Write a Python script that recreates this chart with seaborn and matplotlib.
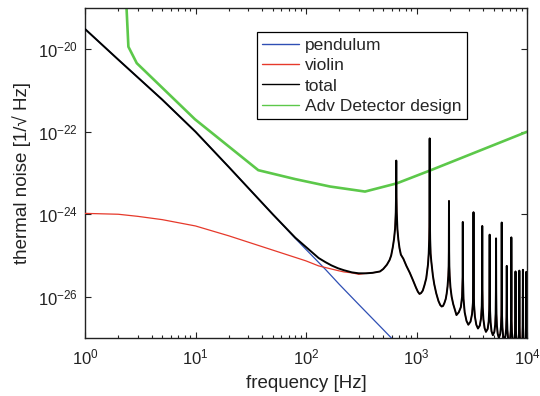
import numpy as np
import matplotlib
matplotlib.use("Agg")
import matplotlib.pyplot as plt
from matplotlib.ticker import LogLocator, NullLocator, NullFormatter
import seaborn as sns

# --- values (Hz, 1/sqrt(Hz)) ---
pend_f = [1, 2, 5, 10, 20, 50, 80, 100, 150, 200, 300, 500, 700]
pend_v = [3.1e-20, 5.6e-21, 6.0e-22, 1.0e-22, 1.4e-23, 1.0e-24, 2.6e-25, 1.4e-25, 4.6e-26,
          2.0e-26, 6.5e-27, 1.6e-27, 6.3e-28]

violin_low_f = [1, 2, 3, 5, 10, 20, 50, 100, 130, 150, 170, 195, 220, 260, 300]
violin_low_v = [1.05e-24, 1.0e-24, 8.9e-25, 7.4e-25, 5.2e-25, 3.0e-25, 1.35e-25, 7.4e-26,
                5.6e-26, 5.1e-26, 4.7e-26, 4.3e-26, 4.0e-26, 3.8e-26, 3.5e-26]

# total: pendulum-dominated part, then the violin-mode resonances
total_f = [1, 2, 5, 10, 20, 50, 80, 100, 115, 130, 150, 170, 195, 220, 260, 300, 350, 400, 467,
           500, 540, 571, 590, 610, 626, 640, 649.4, 654, 656, 658, 662.6, 672, 685.5, 702, 722,
           761, 810, 870, 930, 990, 1030, 1065, 1100, 1140,
           1180, 1225, 1270, 1290, 1303, 1312, 1316, 1320, 1329, 1342, 1362, 1408, 1448, 1510,
           1580, 1640, 1690, 1740,
           1790, 1840, 1876, 1910, 1940, 1955, 1962, 1968, 1974, 1982, 1997, 2030, 2080, 2150,
           2235, 2300,
           2414, 2519, 2585, 2616, 2624, 2632, 2663, 2729, 2834, 2944,
           3083, 3182, 3241, 3270, 3280, 3290, 3319, 3378, 3477, 3600,
           3739, 3838, 3897, 3924, 3936, 3948, 3975, 4034, 4133, 4251,
           4408, 4500, 4551, 4578, 4592, 4606, 4633, 4684, 4776, 4909,
           5064, 5154, 5206, 5232, 5248, 5264, 5290, 5342, 5432, 5566,
           5727, 5815, 5863, 5886, 5904, 5922, 5945, 5993, 6081, 6223,
           6383, 6475, 6521, 6540, 6560, 6580, 6599, 6645, 6737, 6880,
           7043, 7129, 7173, 7194, 7216, 7238, 7259, 7303, 7389, 7537,
           7699, 7785, 7829, 7848, 7872, 7896, 7915, 7959, 8045, 8193,
           8357, 8443, 8485, 8502, 8528, 8554, 8571, 8613, 8699, 8850,
           9000, 9092, 9138, 9156, 9184, 9212, 9230, 9276, 9368, 9506,
           9643, 9742, 9791, 9810, 9840, 9870, 9889, 9940, 10000]
total_v = [3.1e-20, 5.6e-21, 6.0e-22, 1.0e-22, 1.4e-23, 1.0e-24, 2.7e-25, 1.6e-25, 1.15e-25, 8.7e-26,
           6.9e-26, 5.75e-26, 4.9e-26, 4.4e-26, 3.9e-26, 3.7e-26, 3.7e-26, 3.8e-26, 4.1e-26,
           4.7e-26, 6.0e-26, 7.8e-26, 1.0e-25, 1.58e-25, 2.5e-25, 4.5e-25, 1.12e-24, 3.5e-24, 2.0e-23,
           3.5e-24, 1.12e-24, 4.3e-25, 2.4e-25, 1.5e-25, 1.05e-25,
           8.3e-26, 5.6e-26, 3.8e-26, 2.5e-26, 1.66e-26, 1.32e-26, 1.17e-26, 1.23e-26, 1.41e-26,
           1.9e-26, 2.8e-26, 6.0e-26, 1.12e-25, 2.5e-25, 8.9e-25, 6.9e-23, 8.9e-25, 2.5e-25, 1.12e-25,
           7.1e-26, 3.2e-26, 2.0e-26, 1.2e-26,
           7.9e-27, 6.3e-27, 5.8e-27, 6.0e-27,
           7.1e-27, 8.9e-27, 1.2e-26, 1.78e-26, 3.2e-26, 5.6e-26, 1.26e-25, 2.1e-24, 1.26e-25, 5.6e-26,
           3.2e-26, 1.66e-26, 1.0e-26, 6.6e-27, 4.7e-27, 3.6e-27,
           4.2e-27, 5.6e-27, 1.0e-26, 3.2e-26, 6.5e-25, 3.2e-26, 8.9e-27, 4.2e-27, 2.6e-27, 2.1e-27,
           2.5e-27, 3.8e-27, 7.1e-27, 2.4e-26, 1.12e-24, 2.4e-26, 6.3e-27, 3.3e-27, 2.1e-27, 1.7e-27,
           2.0e-27, 3.0e-27, 6.0e-27, 1.95e-26, 5.2e-25, 1.95e-26, 5.6e-27, 2.8e-27, 1.74e-27, 1.41e-27,
           1.66e-27, 2.5e-27, 4.8e-27, 1.62e-26, 3.2e-25, 1.62e-26, 4.5e-27, 2.4e-27, 1.45e-27, 1.17e-27,
           1.41e-27, 2.1e-27, 4.0e-27, 1.35e-26, 2.6e-25, 1.35e-26, 3.8e-27, 2.0e-27, 1.26e-27, 1.0e-27,
           1.26e-27, 1.9e-27, 3.5e-27, 1.17e-26, 6.3e-25, 1.17e-26, 3.4e-27, 1.82e-27, 1.12e-27, 8.9e-28,
           1.12e-27, 1.66e-27, 3.2e-27, 1.0e-26, 5.6e-26, 1.0e-26, 3.0e-27, 1.58e-27, 1.0e-27, 7.9e-28,
           1.0e-27, 1.51e-27, 2.8e-27, 9.3e-27, 2.75e-25, 9.3e-27, 2.7e-27, 1.41e-27, 8.9e-28, 7.1e-28,
           8.9e-28, 1.32e-27, 2.5e-27, 8.3e-27, 4.1e-26, 8.3e-27, 2.4e-27, 1.26e-27, 7.9e-28, 6.3e-28,
           7.9e-28, 1.17e-27, 2.2e-27, 7.4e-27, 4.3e-26, 7.4e-27, 2.1e-27, 1.12e-27, 7.1e-28, 5.6e-28,
           7.1e-28, 1.05e-27, 2.0e-27, 6.6e-27, 4.5e-26, 6.6e-27, 1.9e-27, 1.0e-27, 6.3e-28, 5.0e-28,
           6.3e-28, 9.3e-28, 1.78e-27, 6.3e-27, 4.0e-26, 6.3e-27, 1.7e-27, 8.9e-28, 7.1e-28]

design_f = [2.28, 2.47, 2.94, 9.9, 37, 80, 165, 342, 662, 1325, 10000]
design_v = [1e-18, 1.15e-20, 4.6e-21, 2.0e-22, 1.17e-23, 7.1e-24, 4.7e-24, 3.55e-24, 5.6e-24, 1.15e-23, 1.0e-22]

# violin curve runs under the total above ~300 Hz
violin_f = violin_low_f + [f for f in total_f if f >= 350]
violin_v = violin_low_v + [v for f, v in zip(total_f, total_v) if f >= 350]

sns.set_style("ticks")
plt.rcParams["font.family"] = ["Liberation Sans", "DejaVu Sans"]
plt.rcParams["mathtext.fontset"] = "custom"
plt.rcParams["mathtext.rm"] = "Liberation Sans"
plt.rcParams["mathtext.it"] = "Liberation Sans:italic"
ink = "#222222"

fig = plt.figure(figsize=(5.4, 3.96), dpi=100)
ax = fig.add_axes([85 / 540, 1 - 338 / 396, 442 / 540, 330 / 396])

sns.lineplot(x=pend_f, y=pend_v, ax=ax, color="#2f4fb4", lw=0.9, label="pendulum", estimator=None, zorder=3)
sns.lineplot(x=violin_f, y=violin_v, ax=ax, color="#e6392b", lw=0.9, label="violin", estimator=None, zorder=3)
sns.lineplot(x=design_f, y=design_v, ax=ax, color="#5cc84a", lw=1.9, label="Adv Detector design", estimator=None, zorder=2)
sns.lineplot(x=total_f, y=total_v, ax=ax, color="black", lw=1.4, label="total", estimator=None, zorder=4)

ax.set_xscale("log")
ax.set_yscale("log")
ax.set_xlim(1, 1e4)
ax.set_ylim(1e-27, 1e-19)

ax.xaxis.set_major_locator(LogLocator(base=10, numticks=10))
ax.xaxis.set_minor_locator(LogLocator(base=10, subs=np.arange(2, 10), numticks=20))
ax.xaxis.set_minor_formatter(NullFormatter())
ax.set_yticks([1e-26, 1e-24, 1e-22, 1e-20])
ax.yaxis.set_minor_locator(NullLocator())

ax.tick_params(which="both", direction="in", top=True, right=True, colors=ink, labelsize=12, width=0.8)
ax.tick_params(which="major", length=4.5)
ax.tick_params(which="minor", length=2.5)
ax.tick_params(axis="x", which="major", pad=7)
ax.tick_params(axis="y", which="major", pad=5)
for s in ax.spines.values():
    s.set_color(ink)
    s.set_linewidth(1.0)

ax.set_xlabel("frequency [Hz]", fontsize=13.5, color=ink, labelpad=5)
ax.set_ylabel("thermal noise [1/\u221a Hz]", fontsize=13.5, color=ink, labelpad=5)

handles, labels = ax.get_legend_handles_labels()
order = [labels.index(k) for k in ["pendulum", "violin", "total", "Adv Detector design"]]
leg = ax.legend([handles[i] for i in order], [labels[i] for i in order],
                loc="upper left", bbox_to_anchor=(0.389, 0.927), borderaxespad=0,
                fontsize=12.5, frameon=True, fancybox=False, edgecolor="black",
                framealpha=1, handlelength=2.1, handletextpad=0.35, labelspacing=0.3,
                borderpad=0.32)
leg.get_frame().set_linewidth(0.9)
for line in leg.get_lines():
    line.set_linewidth(1.0)

fig.savefig("out.png", dpi=100)
